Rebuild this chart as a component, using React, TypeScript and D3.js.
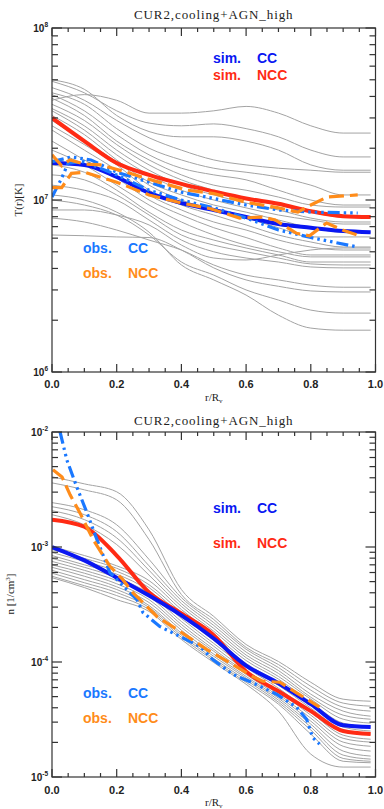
import React from "react";
import * as d3 from "d3";

// ---------- shared ----------
const rGrid = [0, 0.1, 0.2, 0.3, 0.4, 0.5, 0.6, 0.7, 0.8, 0.9, 0.985];
const xMajorTicks = [0, 0.2, 0.4, 0.6, 0.8, 1.0];
const panelTitle = "CUR2,cooling+AGN_high";

// ---------- temperature panel (T in K) ----------
const tempGray = [
  [3.8e7, 4.1e7, 3.8e7, 3.2e7, 3.2e7, 3.3e7, 3.5e7, 3.2e7, 2.7e7, 2.45e7, 2.45e7],
  [4.9e7, 4.2e7, 3.3e7, 2.8e7, 2.7e7, 2.77e7, 2.6e7, 2.33e7, 1.95e7, 1.78e7, 1.78e7],
  [5.0e7, 4.4e7, 3.1e7, 2.5e7, 2.33e7, 2.33e7, 2.2e7, 1.95e7, 1.6e7, 1.49e7, 1.49e7],
  [4.5e7, 3.8e7, 2.9e7, 2.3e7, 1.95e7, 1.71e7, 1.6e7, 1.53e7, 1.49e7, 1.45e7, 1.45e7],
  [4.2e7, 3.6e7, 2.6e7, 2.0e7, 1.71e7, 1.53e7, 1.45e7, 1.36e7, 1.22e7, 1.07e7, 1.07e7],
  [4.1e7, 3.3e7, 2.4e7, 1.83e7, 1.53e7, 1.4e7, 1.31e7, 1.14e7, 1.0e7, 9.35e6, 9.35e6],
  [3.9e7, 3.1e7, 2.2e7, 1.71e7, 1.4e7, 1.22e7, 1.14e7, 1.04e7, 9.35e6, 9.1e6, 9.1e6],
  [3.6e7, 2.9e7, 2.1e7, 1.6e7, 1.31e7, 1.14e7, 1.02e7, 9.35e6, 8.5e6, 7.96e6, 7.96e6],
  [3.4e7, 2.7e7, 1.95e7, 1.49e7, 1.22e7, 1.07e7, 9.6e6, 8.75e6, 7.85e6, 7.45e6, 7.45e6],
  [3.3e7, 2.55e7, 1.83e7, 1.4e7, 1.14e7, 1.0e7, 9.0e6, 8.18e6, 7.65e6, 7.25e6, 7.25e6],
  [3.1e7, 2.4e7, 1.71e7, 1.27e7, 1.07e7, 9.35e6, 8.5e6, 7.65e6, 6.9e6, 6.5e6, 6.5e6],
  [2.9e7, 2.2e7, 1.67e7, 1.22e7, 1.0e7, 8.75e6, 7.85e6, 6.9e6, 6.1e6, 6.1e6, 6.1e6],
  [2.7e7, 2.1e7, 1.6e7, 1.14e7, 9.35e6, 8.18e6, 7.16e6, 6.26e6, 5.7e6, 5.33e6, 5.33e6],
  [2.55e7, 1.95e7, 1.49e7, 1.07e7, 8.75e6, 7.45e6, 6.69e6, 5.85e6, 5.33e6, 5.12e6, 5.12e6],
  [2.2e7, 1.71e7, 1.34e7, 1.0e7, 8.18e6, 6.9e6, 6.05e6, 5.26e6, 4.79e6, 4.79e6, 4.79e6],
  [1.95e7, 1.6e7, 1.22e7, 9.35e6, 7.45e6, 6.26e6, 5.47e6, 5.0e6, 4.67e6, 4.67e6, 4.67e6],
  [1.6e7, 1.45e7, 1.14e7, 8.5e6, 6.69e6, 5.85e6, 5.26e6, 4.79e6, 4.36e6, 4.36e6, 4.36e6],
  [1.4e7, 1.31e7, 1.07e7, 8.18e6, 6.26e6, 5.47e6, 5.0e6, 4.6e6, 4.25e6, 4.19e6, 4.19e6],
  [1.22e7, 1.14e7, 1.0e7, 7.65e6, 5.85e6, 5.0e6, 4.6e6, 4.36e6, 4.08e6, 4.03e6, 4.03e6],
  [8.75e6, 8.75e6, 8.18e6, 7.16e6, 5.47e6, 4.6e6, 4.48e6, 4.79e6, 5.12e6, 5.26e6, 5.26e6],
  [7.85e6, 7.45e6, 6.69e6, 5.85e6, 5.12e6, 4.19e6, 3.66e6, 3.43e6, 3.2e6, 3.11e6, 3.11e6],
  [6.26e6, 6.2e6, 6.1e6, 6.05e6, 5.12e6, 4.03e6, 3.43e6, 3.15e6, 2.96e6, 2.92e6, 2.92e6],
  [1.0e7, 9.35e6, 8.18e6, 6.26e6, 4.36e6, 3.66e6, 3.0e6, 2.62e6, 2.29e6, 2.2e6, 2.2e6],
  [1.07e7, 1.0e7, 8.5e6, 6.5e6, 4.19e6, 3.43e6, 2.8e6, 2.14e6, 1.8e6, 1.75e6, 1.75e6],
];
const tempSimCC = [1.64e7, 1.6e7, 1.36e7, 1.1e7, 9.6e6, 8.75e6, 7.96e6, 7.25e6, 6.9e6, 6.6e6, 6.5e6];
const tempSimNCC = [3.0e7, 2.2e7, 1.64e7, 1.4e7, 1.24e7, 1.12e7, 1.02e7, 9.5e6, 8.6e6, 8.05e6, 7.96e6];

const tempObsCC1R = [0, 0.06, 0.12, 0.2, 0.3, 0.4, 0.5, 0.6, 0.7, 0.8, 0.945];
const tempObsCC1 = [1.67e7, 1.78e7, 1.71e7, 1.45e7, 1.27e7, 1.11e7, 1.02e7, 9.35e6, 8.75e6, 8.5e6, 8.4e6];
const tempObsCC2R = [0, 0.03, 0.05, 0.1, 0.2, 0.3, 0.4, 0.5, 0.6, 0.7, 0.8, 0.945];
const tempObsCC2 = [1.04e7, 1.34e7, 1.64e7, 1.67e7, 1.4e7, 1.14e7, 1.0e7, 9.0e6, 7.85e6, 6.69e6, 6.05e6, 5.33e6];

const tempObsNCC1R = [0, 0.03, 0.055, 0.1, 0.15, 0.23, 0.33, 0.42, 0.5, 0.6, 0.7, 0.76, 0.8, 0.85, 0.945];
const tempObsNCC1 = [1.83e7, 1.58e7, 1.71e7, 1.62e7, 1.6e7, 1.45e7, 1.27e7, 1.14e7, 1.09e7, 9.7e6, 9.0e6, 8.5e6, 9.35e6, 1.04e7, 1.07e7];
const tempObsNCC2R = [0, 0.03, 0.06, 0.1, 0.2, 0.3, 0.4, 0.49, 0.58, 0.65, 0.69, 0.756, 0.796, 0.849, 0.898, 0.944];
const tempObsNCC2 = [1.18e7, 1.18e7, 1.43e7, 1.45e7, 1.27e7, 1.07e7, 9.6e6, 8.9e6, 7.85e6, 7.96e6, 7.65e6, 6.4e6, 6.2e6, 7.35e6, 6.69e6, 6.26e6];

// ---------- density panel (n in 1/cm^3) ----------
const densGray = [
  [4.08e-3, 3.54e-3, 3.02e-3, 1.41e-3, 4.27e-4, 2.49e-4, 1.42e-4, 1.01e-4, 6.66e-5, 4.75e-5, 4.56e-5],
  [3.61e-3, 3.14e-3, 2.57e-3, 1.16e-3, 3.86e-4, 2.34e-4, 1.34e-4, 9.5e-5, 6.15e-5, 4.39e-5, 4.13e-5],
  [2.43e-3, 2.11e-3, 1.56e-3, 7.8e-4, 3.63e-4, 2.2e-4, 1.29e-4, 8.95e-5, 5.69e-5, 4.05e-5, 3.74e-5],
  [2.24e-3, 1.91e-3, 1.36e-3, 6.86e-4, 3.42e-4, 2.08e-4, 1.22e-4, 8.43e-5, 5.25e-5, 3.74e-5, 3.38e-5],
  [2.07e-3, 1.73e-3, 1.2e-3, 6.27e-4, 3.22e-4, 1.96e-4, 1.15e-4, 7.96e-5, 4.94e-5, 3.45e-5, 3.18e-5],
  [1.91e-3, 1.56e-3, 1.05e-3, 5.69e-4, 3.04e-4, 1.85e-4, 1.09e-4, 7.49e-5, 4.75e-5, 3.18e-5, 2.94e-5],
  [1.01e-3, 8.43e-4, 6.86e-4, 5.1e-4, 2.86e-4, 1.74e-4, 1.03e-4, 7.1e-5, 4.47e-5, 2.94e-5, 2.72e-5],
  [9.5e-4, 7.96e-4, 6.53e-4, 4.7e-4, 2.7e-4, 1.64e-4, 9.7e-5, 6.66e-5, 4.22e-5, 2.72e-5, 2.51e-5],
  [8.95e-4, 7.49e-4, 6.15e-4, 4.44e-4, 2.54e-4, 1.54e-4, 9.31e-5, 6.27e-5, 3.97e-5, 2.56e-5, 2.36e-5],
  [8.43e-4, 7.0e-4, 5.8e-4, 4.18e-4, 2.39e-4, 1.45e-4, 8.95e-5, 5.92e-5, 3.66e-5, 2.31e-5, 2.13e-5],
  [7.96e-4, 6.66e-4, 5.41e-4, 3.94e-4, 2.25e-4, 1.37e-4, 8.43e-5, 5.57e-5, 3.45e-5, 2.17e-5, 2.01e-5],
  [7.49e-4, 6.27e-4, 5.1e-4, 3.71e-4, 2.12e-4, 1.29e-4, 8.1e-5, 5.25e-5, 3.25e-5, 2.01e-5, 1.85e-5],
  [7.0e-4, 5.92e-4, 4.79e-4, 3.49e-4, 2.0e-4, 1.24e-4, 7.8e-5, 5.05e-5, 3.06e-5, 1.85e-5, 1.68e-5],
  [6.66e-4, 5.57e-4, 4.51e-4, 3.29e-4, 1.89e-4, 1.17e-4, 7.49e-5, 4.85e-5, 2.88e-5, 1.68e-5, 1.52e-5],
  [6.27e-4, 5.2e-4, 4.27e-4, 3.1e-4, 1.78e-4, 1.12e-4, 7.24e-5, 4.66e-5, 2.72e-5, 1.55e-5, 1.43e-5],
  [5.92e-4, 4.89e-4, 4.02e-4, 2.98e-4, 1.71e-4, 1.07e-4, 6.96e-5, 4.47e-5, 2.56e-5, 1.45e-5, 1.37e-5],
  [5.57e-4, 4.61e-4, 3.78e-4, 2.86e-4, 1.64e-4, 1.03e-4, 6.66e-5, 4.3e-5, 2.36e-5, 1.37e-5, 1.33e-5],
  [5.41e-4, 4.44e-4, 3.49e-4, 2.75e-4, 1.57e-4, 9.9e-5, 6.4e-5, 3.74e-5, 1.58e-5, 1.22e-5, 1.22e-5],
];
const densSimCC = [1.0e-3, 7.65e-4, 5.41e-4, 3.78e-4, 2.54e-4, 1.6e-4, 9.31e-5, 6.53e-5, 4.3e-5, 2.82e-5, 2.72e-5];
const densSimNCC = [1.73e-3, 1.5e-3, 8.43e-4, 4.02e-4, 2.64e-4, 1.71e-4, 8.26e-5, 5.57e-5, 3.74e-5, 2.51e-5, 2.36e-5];

const densObsCCR = [0.025, 0.046, 0.077, 0.108, 0.139, 0.179, 0.231, 0.262, 0.281, 0.333, 0.395, 0.457, 0.497, 0.559, 0.62, 0.694, 0.756, 0.787, 0.806, 0.827];
const densObsCC = [1.0e-2, 5.7e-3, 3.3e-3, 1.99e-3, 1.16e-3, 6.0e-4, 4.27e-4, 3.5e-4, 2.7e-4, 2.04e-4, 1.67e-4, 1.37e-4, 1.05e-4, 7.8e-5, 6.6e-5, 5.25e-5, 4.05e-5, 3.18e-5, 2.2e-5, 1.93e-5];
const densObsNCCR = [0.003, 0.031, 0.056, 0.086, 0.127, 0.179, 0.219, 0.25, 0.281, 0.324, 0.386, 0.478, 0.559, 0.62, 0.651, 0.704, 0.765, 0.827];
const densObsNCC = [4.7e-3, 4.07e-3, 2.84e-3, 1.99e-3, 1.16e-3, 6.8e-4, 5.2e-4, 4.0e-4, 3.3e-4, 2.49e-4, 1.92e-4, 1.29e-4, 9.5e-5, 7.5e-5, 6.8e-5, 6.67e-5, 5.2e-5, 4.05e-5];

// ---------- styling ----------
const C_SIM_CC = "#0a17f2";
const C_SIM_NCC = "#ff2b14";
const C_OBS_CC = "#1a78ff";
const C_OBS_NCC = "#ff8c1a";
const C_GRAY = "#a3a3a3";
const AXIS = "#333";
const SANS = "'Liberation Sans', Arial, Helvetica, sans-serif";
const SERIF = "'Liberation Serif', 'Times New Roman', serif";

const X0 = 52;
const X1 = 375.5;
const xScale = d3.scaleLinear().domain([0, 1]).range([X0, X1]);

type PanelProps = {
  id: string;
  top: number;
  bottom: number;
  domain: [number, number];
  titleY: number;
  tickLabelY: number;
  xTitleY: number;
  yTitle: React.ReactNode;
  yTitleX: number;
  yTitleY: number;
  gray: number[][];
  simCC: number[];
  simNCC: number[];
  obs: { r: number[]; v: number[]; color: string; dash: string }[];
  legend: { x: number; x2: number; y: number; a: string; b: string; color: string }[];
};

function logTicks(lo: number, hi: number) {
  const out: { v: number; major: boolean }[] = [];
  const e0 = Math.round(Math.log10(lo));
  const e1 = Math.round(Math.log10(hi));
  for (let e = e0; e <= e1; e++) {
    for (let k = 1; k <= 9; k++) {
      const v = k * Math.pow(10, e);
      if (v >= lo * 0.999 && v <= hi * 1.001) out.push({ v, major: k === 1 });
    }
  }
  return out;
}

function Panel(p: PanelProps) {
  const y = d3.scaleLog().domain(p.domain).range([p.bottom, p.top]);
  const smooth = d3
    .line<[number, number]>()
    .x((d) => xScale(d[0]))
    .y((d) => y(d[1]))
    .curve(d3.curveMonotoneX);
  const straight = d3
    .line<[number, number]>()
    .x((d) => xScale(d[0]))
    .y((d) => y(d[1]));
  const zip = (r: number[], v: number[]) => r.map((ri, i) => [ri, v[i]] as [number, number]);

  const xMinor = d3.range(0, 1.0001, 0.05);
  const yTicks = logTicks(p.domain[0], p.domain[1]);
  const majors = yTicks.filter((t) => t.major);

  return (
    <g>
      <defs>
        <clipPath id={p.id}>
          <rect x={X0} y={p.top} width={X1 - X0} height={p.bottom - p.top} />
        </clipPath>
      </defs>
      <text x={(X0 + X1) / 2} y={p.titleY} textAnchor="middle" fontFamily={SERIF} fontSize={13} letterSpacing={0.9} fill="#222">
        {panelTitle}
      </text>

      <g clipPath={`url(#${p.id})`} fill="none">
        {p.gray.map((g, i) => (
          <path key={i} d={smooth(zip(rGrid, g)) || ""} stroke={C_GRAY} strokeWidth={1} />
        ))}
        <path d={smooth(zip(rGrid, p.simNCC)) || ""} stroke={C_SIM_NCC} strokeWidth={4} strokeLinejoin="round" />
        <path d={smooth(zip(rGrid, p.simCC)) || ""} stroke={C_SIM_CC} strokeWidth={4} strokeLinejoin="round" />
        {p.obs.map((o, i) => (
          <path key={i} d={straight(zip(o.r, o.v)) || ""} stroke={o.color} strokeWidth={3.2} strokeDasharray={o.dash} />
        ))}
      </g>

      <rect x={X0} y={p.top} width={X1 - X0} height={p.bottom - p.top} fill="none" stroke={AXIS} strokeWidth={1.2} />

      {xMinor.map((t, i) => {
        const major = i % 4 === 0;
        const len = major ? 8 : 4;
        const xx = xScale(t);
        return (
          <g key={i} stroke={AXIS} strokeWidth={1.2}>
            <line x1={xx} x2={xx} y1={p.bottom} y2={p.bottom - len} />
            <line x1={xx} x2={xx} y1={p.top} y2={p.top + len} />
          </g>
        );
      })}
      {xMajorTicks.map((t) => (
        <text key={t} x={xScale(t)} y={p.tickLabelY} textAnchor="middle" fontFamily={SANS} fontSize={11} fontWeight="bold" fill="#222">
          {t.toFixed(1)}
        </text>
      ))}
      <text x={(X0 + X1) / 2} y={p.xTitleY} textAnchor="middle" fontFamily={SERIF} fontSize={11} fill="#222">
        r/R
        <tspan fontSize={7} dy={2}>v</tspan>
      </text>

      {yTicks.map((t, i) => {
        const yy = y(t.v);
        const len = t.major ? 10 : 6;
        return (
          <g key={i} stroke={AXIS} strokeWidth={1.2}>
            <line x1={X0} x2={X0 + len} y1={yy} y2={yy} />
            <line x1={X1} x2={X1 - len} y1={yy} y2={yy} />
          </g>
        );
      })}
      {majors.map((t, i) => (
        <text key={i} x={X0 - 4} y={y(t.v) + 4} textAnchor="end" fontFamily={SANS} fontSize={10} fontWeight="bold" fill="#222">
          10
          <tspan fontSize={6.5} dy={-5}>{String(Math.round(Math.log10(t.v)))}</tspan>
        </text>
      ))}
      <text
        transform={`translate(${p.yTitleX},${p.yTitleY}) rotate(-90)`}
        textAnchor="middle"
        fontFamily={SERIF}
        fontSize={11}
        fill="#222"
      >
        {p.yTitle}
      </text>

      {p.legend.map((l, i) => (
        <g key={i} fontFamily={SANS} fontWeight="bold" fontSize={14} fill={l.color}>
          <text x={l.x} y={l.y}>{l.a}</text>
          <text x={l.x2} y={l.y}>{l.b}</text>
        </g>
      ))}
    </g>
  );
}

const DASH_OBS_CC = "12 4 2.5 4 2.5 4 2.5 4";
const DASH_OBS_NCC = "15 6";

export default function App() {
  return (
    <svg width={384} height={809} style={{ position: "absolute", left: 0, top: 0, background: "#fff" }}>
      <rect x={0} y={0} width={384} height={809} fill="#fff" />
      <Panel
        id="clipT"
        top={28}
        bottom={372}
        domain={[1e6, 1e8]}
        titleY={19}
        tickLabelY={388}
        xTitleY={401}
        yTitle={<>T(r)[K]</>}
        yTitleX={22}
        yTitleY={200}
        gray={tempGray}
        simCC={tempSimCC}
        simNCC={tempSimNCC}
        obs={[
          { r: tempObsCC1R, v: tempObsCC1, color: C_OBS_CC, dash: DASH_OBS_CC },
          { r: tempObsCC2R, v: tempObsCC2, color: C_OBS_CC, dash: DASH_OBS_CC },
          { r: tempObsNCC1R, v: tempObsNCC1, color: C_OBS_NCC, dash: DASH_OBS_NCC },
          { r: tempObsNCC2R, v: tempObsNCC2, color: C_OBS_NCC, dash: DASH_OBS_NCC },
        ]}
        legend={[
          { x: 213, x2: 257, y: 63, a: "sim.", b: "CC", color: C_SIM_CC },
          { x: 213, x2: 257, y: 79.5, a: "sim.", b: "NCC", color: C_SIM_NCC },
          { x: 83, x2: 128, y: 253, a: "obs.", b: "CC", color: C_OBS_CC },
          { x: 83, x2: 128, y: 278, a: "obs.", b: "NCC", color: C_OBS_NCC },
        ]}
      />
      <Panel
        id="clipN"
        top={432}
        bottom={777}
        domain={[1e-5, 1e-2]}
        titleY={425}
        tickLabelY={794}
        xTitleY={806}
        yTitle={
          <>
            n [1/cm<tspan fontSize={7} dy={-4}>3</tspan>
            <tspan dy={4}>]</tspan>
          </>
        }
        yTitleX={14}
        yTitleY={594}
        gray={densGray}
        simCC={densSimCC}
        simNCC={densSimNCC}
        obs={[
          { r: densObsCCR, v: densObsCC, color: C_OBS_CC, dash: DASH_OBS_CC },
          { r: densObsNCCR, v: densObsNCC, color: C_OBS_NCC, dash: DASH_OBS_NCC },
        ]}
        legend={[
          { x: 213, x2: 257, y: 513, a: "sim.", b: "CC", color: C_SIM_CC },
          { x: 213, x2: 257, y: 548, a: "sim.", b: "NCC", color: C_SIM_NCC },
          { x: 83, x2: 128, y: 698, a: "obs.", b: "CC", color: C_OBS_CC },
          { x: 83, x2: 128, y: 723, a: "obs.", b: "NCC", color: C_OBS_NCC },
        ]}
      />
    </svg>
  );
}
